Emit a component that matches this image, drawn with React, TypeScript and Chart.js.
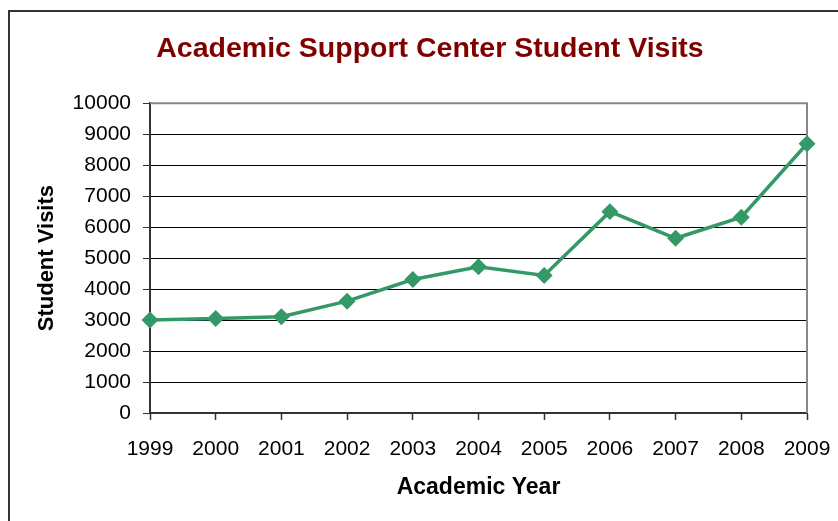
import React, { useEffect, useRef } from "react";
import { Chart, registerables } from "chart.js";

Chart.register(...registerables);

const years = ["1999", "2000", "2001", "2002", "2003", "2004", "2005", "2006", "2007", "2008", "2009"];
const visits = [3000, 3050, 3110, 3610, 4310, 4720, 4440, 6500, 5640, 6320, 8690];
const titleText = "Academic Support Center Student Visits";
const xTitle = "Academic Year";
const yTitle = "Student Visits";

const FONT = "'Liberation Sans', Arial, sans-serif";
const GREEN = "#339966";

const framePlugin = {
  id: "frame",
  beforeDraw(chart: any) {
    const ctx = chart.ctx;
    ctx.save();
    ctx.fillStyle = "#ffffff";
    ctx.fillRect(0, 0, chart.width, chart.height);
    ctx.fillStyle = "#333333";
    ctx.fillRect(8, 10, chart.width, 2);
    ctx.fillRect(8, 10, 2, chart.height);
    ctx.restore();
  },
  beforeDatasetsDraw(chart: any) {
    const { ctx, chartArea } = chart;
    ctx.save();
    ctx.strokeStyle = "#888888";
    ctx.lineWidth = 2;
    ctx.beginPath();
    ctx.moveTo(chartArea.left, chartArea.top);
    ctx.lineTo(chartArea.right, chartArea.top);
    ctx.lineTo(chartArea.right, chartArea.bottom);
    ctx.stroke();
    ctx.restore();
  },
};

export default function App() {
  const ref = useRef<HTMLCanvasElement | null>(null);

  useEffect(() => {
    if (!ref.current) return;
    const chart = new Chart(ref.current, {
      type: "line",
      data: {
        labels: years,
        datasets: [
          {
            data: visits,
            borderColor: GREEN,
            backgroundColor: GREEN,
            borderWidth: 3.5,
            pointStyle: "rectRot",
            pointRadius: 6,
            pointBackgroundColor: GREEN,
            pointBorderColor: GREEN,
            tension: 0,
          },
        ],
      },
      options: {
        responsive: false,
        animation: false,
        layout: { padding: { left: 22, right: 0, top: 0, bottom: 0 } },
        plugins: {
          legend: { display: false },
          tooltip: { enabled: false },
          title: {
            display: true,
            text: titleText,
            color: "#800000",
            font: { family: FONT, size: 28.5, weight: "bold" },
            padding: { top: 32, bottom: 37 },
          },
        },
        scales: {
          x: {
            type: "category",
            offset: false,
            afterFit(scale: any) {
              scale.height = 108;
              scale.paddingRight = 31;
            },
            grid: {
              display: true,
              drawOnChartArea: false,
              drawTicks: true,
              tickLength: 7,
              tickColor: "#333333",
              tickWidth: 1.5,
            },
            border: { display: true, color: "#333333", width: 2 },
            ticks: {
              color: "#000000",
              font: { family: FONT, size: 21 },
              padding: 17,
              maxRotation: 0,
              autoSkip: false,
            },
            title: {
              display: true,
              text: xTitle,
              color: "#000000",
              font: { family: FONT, size: 23, weight: "bold" },
              padding: { top: 0, bottom: 20 },
            },
          },
          y: {
            min: 0,
            max: 10000,
            afterFit(scale: any) {
              scale.width = 128;
            },
            grid: {
              color: "#000000",
              lineWidth: 1,
              drawTicks: true,
              tickLength: 7,
              tickColor: "#333333",
            },
            border: { display: true, color: "#333333", width: 2 },
            ticks: {
              stepSize: 1000,
              color: "#000000",
              font: { family: FONT, size: 21 },
              padding: 12,
              callback: (v: any) => String(v),
            },
            title: {
              display: true,
              text: yTitle,
              color: "#000000",
              font: { family: FONT, size: 22, weight: "bold" },
              padding: { top: 12, bottom: 0 },
            },
          },
        },
      },
      plugins: [framePlugin],
    });
    return () => chart.destroy();
  }, []);

  return (
    <div style={{ position: "fixed", left: 0, top: 0, width: 838, height: 521, background: "#fff" }}>
      <canvas ref={ref} width={838} height={521} />
    </div>
  );
}
